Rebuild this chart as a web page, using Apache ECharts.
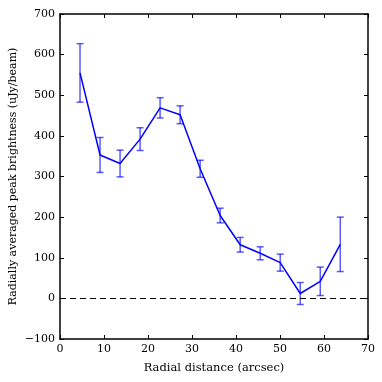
<!DOCTYPE html>
<html>
<head>
<meta charset="utf-8">
<script src="https://cdn.jsdelivr.net/npm/echarts@6/dist/echarts.min.js"></script>
<style>
  html, body { margin: 0; padding: 0; background: #fff; }
  #chart { width: 382px; height: 382px; }
</style>
</head>
<body>
<div id="chart"></div>
<script>
// radial distance (arcsec)
const radius = [4.55, 9.1, 13.65, 18.2, 22.75, 27.3, 31.85, 36.4, 40.95, 45.5, 50.05, 54.6, 59.15, 63.7];
// radially averaged peak brightness (uJy/beam)
const brightness = [555, 353, 332, 392, 469, 452, 319, 204, 132, 111, 88, 12, 42, 133];
// error bar half widths
const errors = [72, 43, 33, 28, 25, 22, 21, 18, 18, 16, 21, 27, 35, 67];

const font = 'DejaVu Serif';

const chart = echarts.init(document.getElementById('chart'));

const lineData = radius.map((r, i) => [r, brightness[i]]);
const errData = radius.map((r, i) => [r, brightness[i] - errors[i], brightness[i] + errors[i]]);

function renderErr(params, api) {
  const x = api.value(0);
  const lo = api.coord([x, api.value(1)]);
  const hi = api.coord([x, api.value(2)]);
  const cap = 3.5;
  const style = { stroke: 'rgba(0,0,255,0.65)', lineWidth: 1.5 };
  return {
    type: 'group',
    children: [
      { type: 'line', shape: { x1: lo[0], y1: lo[1], x2: hi[0], y2: hi[1] }, style: style },
      { type: 'line', shape: { x1: lo[0] - cap, y1: lo[1], x2: lo[0] + cap, y2: lo[1] }, style: style },
      { type: 'line', shape: { x1: hi[0] - cap, y1: hi[1], x2: hi[0] + cap, y2: hi[1] }, style: style }
    ]
  };
}

const axisLine = { show: true, onZero: false, lineStyle: { color: '#000', width: 1.5 } };
const axisTick = { show: true, inside: true, length: 4, lineStyle: { color: '#000', width: 1 } };

const option = {
  animation: false,
  grid: { left: 60, right: 14, top: 14, bottom: 43, outerBoundsMode: 'none', containLabel: false },
  xAxis: [
    {
      type: 'value', min: 0, max: 70, interval: 10,
      name: 'Radial distance (arcsec)', nameLocation: 'middle', nameGap: 23,
      nameTextStyle: { fontFamily: font, fontSize: 11.5, color: '#000' },
      axisLine: axisLine, axisTick: axisTick, splitLine: { show: false },
      axisLabel: { fontFamily: font, fontSize: 11, color: '#000', margin: 5 }
    },
    {
      type: 'value', min: 0, max: 70, interval: 10, position: 'top',
      axisLine: axisLine, axisTick: axisTick, splitLine: { show: false },
      axisLabel: { show: false }
    }
  ],
  yAxis: [
    {
      type: 'value', min: -100, max: 700, interval: 100,
      name: 'Radially averaged peak brightness (uJy/beam)', nameLocation: 'middle',
      nameGap: 41, nameMoveOverlap: false,
      nameTextStyle: { fontFamily: font, fontSize: 11, color: '#000' },
      axisLine: axisLine, axisTick: axisTick, splitLine: { show: false },
      axisLabel: { fontFamily: font, fontSize: 11, color: '#000', margin: 5,
        formatter: v => v < 0 ? '\u2212' + Math.abs(v) : String(v) }
    },
    {
      type: 'value', min: -100, max: 700, interval: 100, position: 'right',
      axisLine: axisLine, axisTick: axisTick, splitLine: { show: false },
      axisLabel: { show: false }
    }
  ],
  series: [
    {
      type: 'line',
      data: lineData,
      showSymbol: false,
      lineStyle: { color: '#0000ff', width: 1.5 },
      z: 3,
      markLine: {
        silent: true,
        symbol: 'none',
        label: { show: false },
        lineStyle: { color: '#000', type: [6, 4], width: 1.2 },
        data: [{ yAxis: 0 }]
      }
    },
    {
      type: 'custom',
      data: errData,
      renderItem: renderErr,
      encode: { x: 0, y: [1, 2] },
      z: 4
    }
  ]
};

chart.setOption(option);
</script>
</body>
</html>
